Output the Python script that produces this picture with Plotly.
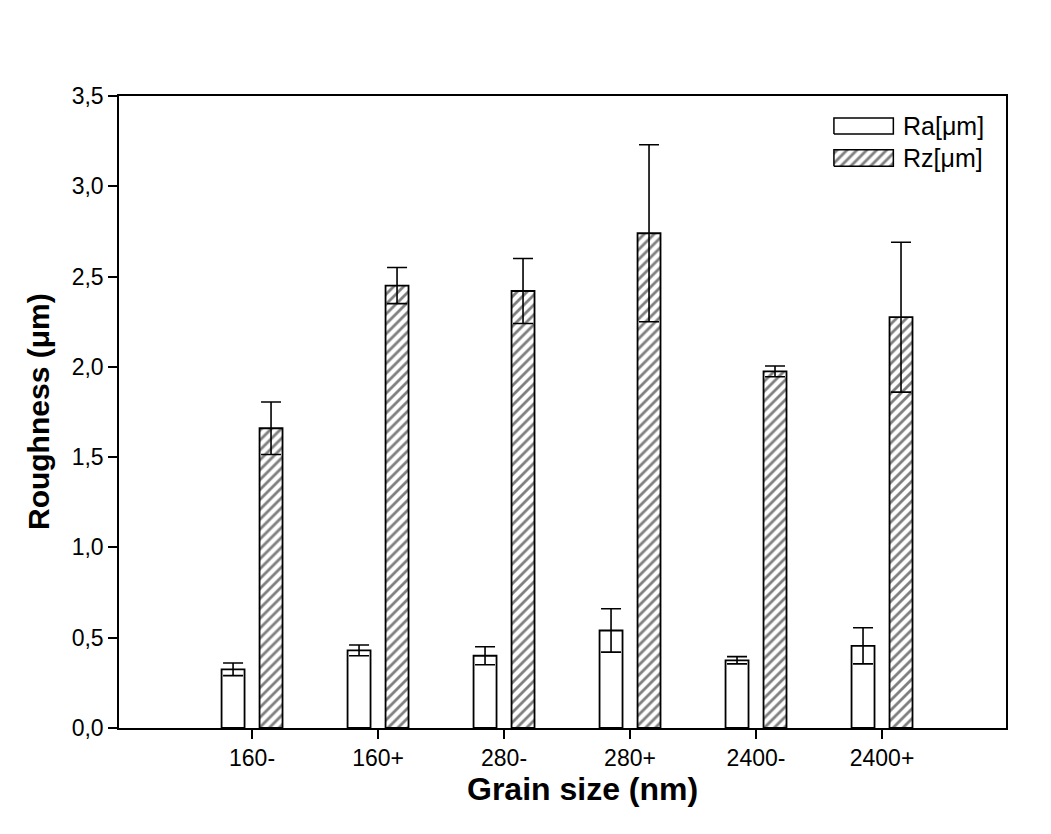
import plotly.graph_objects as go

categories = ["160-", "160+", "280-", "280+", "2400-", "2400+"]
ra_values = [0.325, 0.43, 0.40, 0.54, 0.375, 0.455]
ra_errors = [0.035, 0.03, 0.05, 0.12, 0.02, 0.10]
rz_values = [1.66, 2.45, 2.42, 2.74, 1.975, 2.275]
rz_errors = [0.145, 0.10, 0.18, 0.49, 0.03, 0.415]
y_ticks = [0, 0.5, 1.0, 1.5, 2.0, 2.5, 3.0, 3.5]
legend_names = ["Ra[μm]", "Rz[μm]"]
x_title = "Grain size (nm)"
y_title = "Roughness (μm)"

FONT = "Liberation Sans, Arial, sans-serif"
HATCH = dict(shape="/", fgcolor="black", bgcolor="white", size=7, solidity=0.4)

fig = go.Figure()
fig.add_trace(go.Bar(
    name=legend_names[0], x=categories, y=ra_values,
    marker=dict(color="white", line=dict(color="black", width=1.8)),
    error_y=dict(type="data", array=ra_errors, symmetric=True,
                 color="black", thickness=1.6, width=10),
))
fig.add_trace(go.Bar(
    name=legend_names[1], x=categories, y=rz_values,
    marker=dict(color="white", line=dict(color="black", width=1.8), pattern=HATCH),
    error_y=dict(type="data", array=rz_errors, symmetric=True,
                 color="black", thickness=1.6, width=10),
))

# legend drawn on a hidden overlay axis (0..1 spans the plot area)
leg_x0, leg_x1 = 0.806, 0.873
leg_rows = [(0.965, 0.940), (0.915, 0.889)]
for i, (top, bot) in enumerate(leg_rows):
    kw = dict(fill="toself", fillcolor="white")
    if i == 1:
        kw["fillpattern"] = HATCH
    fig.add_trace(go.Scatter(
        x=[leg_x0, leg_x1, leg_x1, leg_x0, leg_x0],
        y=[bot, bot, top, top, bot],
        mode="lines", line=dict(color="black", width=1.5),
        xaxis="x2", yaxis="y2", hoverinfo="skip", showlegend=False, **kw,
    ))
    fig.add_annotation(
        x=0.882, y=(top + bot) / 2, xref="x2", yref="y2",
        text=legend_names[i], showarrow=False, xanchor="left", yanchor="middle",
        font=dict(size=25, family=FONT, color="black"),
    )

# axis titles
fig.add_annotation(
    x=0.522, y=-0.096, xref="paper", yref="paper",
    text="<b>" + x_title + "</b>", showarrow=False, xanchor="center", yanchor="middle",
    font=dict(size=32, family=FONT, color="black"),
)
fig.add_annotation(
    x=-0.0913, y=0.5, xref="paper", yref="paper", textangle=-90,
    text="<b>" + y_title + "</b>", showarrow=False, xanchor="center", yanchor="middle",
    font=dict(size=30, family=FONT, color="black"),
)

fig.update_layout(
    width=1051, height=834,
    margin=dict(l=111, r=53, t=88, b=114),
    paper_bgcolor="white", plot_bgcolor="white",
    separators=",.",
    barmode="group", bargap=0.397, bargroupgap=0.395,
    font=dict(family=FONT, size=23, color="black"),
    showlegend=False,
    xaxis=dict(
        type="category", range=[-1.056, 5.984],
        showline=True, linecolor="black", linewidth=1.5, mirror=True,
        ticks="outside", ticklen=9, tickwidth=1.5, tickcolor="black",
        showgrid=False, zeroline=False,
        tickfont=dict(size=23, family=FONT),
    ),
    yaxis=dict(
        range=[0, 3.5], tickvals=y_ticks, tickformat=".1f",
        showline=True, linecolor="black", linewidth=1.5, mirror=True,
        ticks="outside", ticklen=9, tickwidth=1.5, tickcolor="black",
        showgrid=False, zeroline=False,
        tickfont=dict(size=23, family=FONT),
    ),
    xaxis2=dict(overlaying="x", range=[0, 1], visible=False, fixedrange=True),
    yaxis2=dict(overlaying="y", range=[0, 1], visible=False, fixedrange=True),
)

fig.write_html("out.html")
